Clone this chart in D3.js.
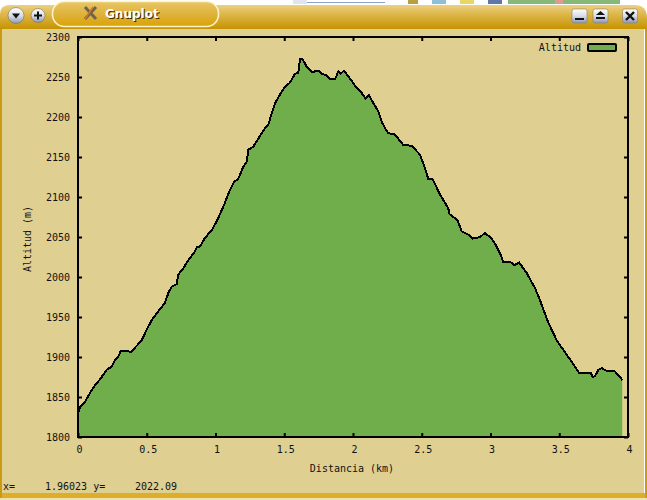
<!DOCTYPE html>
<html><head><meta charset="utf-8">
<script src="https://cdnjs.cloudflare.com/ajax/libs/d3/7.8.5/d3.min.js"></script>
<style>
html,body{margin:0;padding:0;background:#fff;overflow:hidden}
svg{display:block}
text{font-family:"DejaVu Sans Mono",monospace;font-size:10px;fill:#111}
</style></head><body>
<svg id="c" width="647" height="500"></svg>
<script>
const distanceKm=[0,.015,.051,.087,.124,.16,.209,.245,.269,.298,.311,.354,.383,.427,.463,.511,.536,.584,.633,.657,.681,.718,.729,.766,.802,.851,.863,.887,.924,.975,1.018,1.062,1.098,1.135,1.164,1.202,1.227,1.239,1.275,1.311,1.36,1.384,1.409,1.433,1.469,1.505,1.542,1.578,1.602,1.615,1.631,1.663,1.7,1.748,1.772,1.809,1.833,1.869,1.893,1.91,1.935,1.978,2.015,2.063,2.092,2.116,2.136,2.184,2.209,2.233,2.255,2.305,2.366,2.427,2.487,2.524,2.548,2.58,2.633,2.693,2.7,2.759,2.791,2.839,2.871,2.924,2.96,3.009,3.045,3.074,3.093,3.142,3.173,3.209,3.263,3.324,3.36,3.418,3.481,3.529,3.591,3.644,3.729,3.743,3.76,3.784,3.809,3.84,3.905,3.942,3.958];
const altitudeM=[1829,1838,1844,1855,1865,1872,1884,1888,1896,1902,1908,1908,1906,1914,1921,1938,1946,1957,1968,1980,1988,1991,2003,2011,2021,2032,2037,2038,2049,2059,2073,2090,2106,2119,2122,2138,2144,2159,2163,2173,2186,2190,2205,2217,2228,2238,2243,2254,2255,2273,2273,2263,2256,2258,2254,2252,2247,2247,2257,2254,2258,2248,2239,2230,2223,2227,2221,2207,2194,2186,2180,2178,2165,2164,2153,2136,2122,2122,2103,2086,2079,2071,2057,2053,2048,2050,2055,2048,2038,2028,2019,2019,2015,2018,2005,1986,1971,1944,1921,1909,1894,1880,1880,1875,1876,1884,1886,1883,1882,1875,1871];
const xTicks=[0,.5,1,1.5,2,2.5,3,3.5,4];
const yTicks=[1800,1850,1900,1950,2000,2050,2100,2150,2200,2250,2300];
const xLabel="Distancia (km)", yLabel="Altitud (m)", legendLabel="Altitud";
const statusParts=["x=","1.96023 y=","2022.09"];
const windowTitle="Gnuplot";

const svg=d3.select("#c");
const defs=svg.append("defs");
function grad(id,stops){const g=defs.append("linearGradient").attr("id",id).attr("x1",0).attr("x2",0).attr("y1",0).attr("y2",1);
  stops.forEach(([o,c])=>g.append("stop").attr("offset",o).attr("stop-color",c));}
grad("bar",[[0,"#ecd184"],[.35,"#dfb94f"],[1,"#c69300"]]);
grad("tab",[[0,"#e8c765"],[.5,"#dfb23c"],[1,"#d9a305"]]);
grad("btn",[[0,"#ffffff"],[.5,"#d8dde8"],[1,"#8f97b0"]]);

// desktop strip behind the window
svg.append("rect").attr("x",293).attr("y",0).attr("width",14).attr("height",4).attr("fill","#dfe4ee");
svg.append("rect").attr("x",307).attr("y",2).attr("width",78).attr("height",1).attr("fill","#8ea2c8");
svg.append("rect").attr("x",408).attr("y",0).attr("width",10).attr("height",4).attr("fill","#b8a040");
svg.append("rect").attr("x",432).attr("y",0).attr("width",14).attr("height",4).attr("fill","#8fc0d8");
svg.append("rect").attr("x",460).attr("y",0).attr("width",14).attr("height",4).attr("fill","#e8d860");
svg.append("rect").attr("x",488).attr("y",0).attr("width",14).attr("height",4).attr("fill","#5f78a8");
svg.append("rect").attr("x",508).attr("y",0).attr("width",112).attr("height",4).attr("fill","#86b878");
svg.append("rect").attr("x",555).attr("y",0).attr("width",8).attr("height",4).attr("fill","#e09a90");

// window
svg.append("path").attr("d","M0,29V14Q0,5 10,5H634Q647,5 647,18V29Z").attr("fill","url(#bar)");
svg.append("rect").attr("x",2).attr("y",29).attr("width",642).attr("height",464).attr("fill","#dfcf91");
svg.append("rect").attr("x",0).attr("y",29).attr("width",2).attr("height",471).attr("fill","#c99a12");
svg.append("rect").attr("x",645).attr("y",29).attr("width",2).attr("height",471).attr("fill","#c99a12");
svg.append("rect").attr("x",2).attr("y",493).attr("width",643).attr("height",5).attr("fill","#dcae2a");
svg.append("rect").attr("x",0).attr("y",498).attr("width",647).attr("height",2).attr("fill","#efe2b0");

// title bar controls
[[16,"down",8],[38,"plus",7]].forEach(([cx,k,r])=>{
  svg.append("circle").attr("cx",cx).attr("cy",15.5).attr("r",r).attr("fill","url(#btn)").attr("stroke","#7a7050").attr("stroke-width",.6);
  if(k==="down") svg.append("path").attr("d",`M${cx-4},13.5H${cx+4}L${cx},18.5Z`).attr("fill","#111");
  else svg.append("path").attr("d",`M${cx-4},15.5H${cx+4}M${cx},11.5V19.5`).attr("stroke","#111").attr("stroke-width",2);
});
svg.append("rect").attr("x",52.5).attr("y",1.5).attr("width",166).attr("height",25).attr("rx",12).attr("fill","url(#tab)").attr("stroke","#fdf3c8").attr("stroke-width",1.6);
svg.append("path").attr("d","M85,7L96,19M96,7L85,19").attr("stroke","#6d6350").attr("stroke-width",3);
svg.append("path").attr("d","M93,7L85,19").attr("stroke","#d07a20").attr("stroke-width",1.5);
svg.append("text").attr("x",105).attr("y",18).text(windowTitle).style("font-family","'DejaVu Sans'").style("font-size","12px").style("font-weight","bold").style("fill","#3a2c00").attr("transform","translate(1,1)");
svg.append("text").attr("x",105).attr("y",18).text(windowTitle).style("font-family","'DejaVu Sans'").style("font-size","12px").style("font-weight","bold").style("fill","#fff");
[[572,"min"],[593,"max"],[622.5,"x"]].forEach(([x,k])=>{
  svg.append("rect").attr("x",x).attr("y",9).attr("width",15).attr("height",14).attr("rx",2).attr("fill","url(#btn)").attr("stroke","#8a8060").attr("stroke-width",.6);
  if(k==="min") svg.append("rect").attr("x",x+3).attr("y",18).attr("width",9).attr("height",2).attr("fill","#111");
  if(k==="max") svg.append("path").attr("d",`M${x+3},15L${x+7.5},11L${x+12},15ZM${x+3},17H${x+12}V19H${x+3}Z`).attr("fill","#111");
  if(k==="x") svg.append("path").attr("d",`M${x+3.5},12L${x+11.5},20M${x+11.5},12L${x+3.5},20`).attr("stroke","#111").attr("stroke-width",2.4);
});

// plot
const L=78,R=628,T=37,B=437;
const x=d3.scaleLinear().domain([0,4]).range([L,R]);
const y=d3.scaleLinear().domain([1800,2300]).range([B,T]);
const pts=distanceKm.map((d,i)=>[d,altitudeM[i]]);
svg.append("path").datum(pts).attr("fill","#6fae4a").attr("d",d3.area().x(d=>x(d[0])).y0(y(1800)).y1(d=>y(d[1])));
svg.append("path").datum(pts).attr("fill","none").attr("stroke","#000").attr("stroke-width",2).attr("shape-rendering","crispEdges")
  .attr("d",d3.line().x(d=>x(d[0])).y(d=>y(d[1])));

function style(g){g.select(".domain").remove();g.selectAll("line").attr("stroke","#000").attr("stroke-width",2);}
svg.append("g").attr("transform",`translate(0,${B})`).call(d3.axisBottom(x).tickValues(xTicks).tickSize(-4).tickFormat(d3.format("~g"))).call(style)
  .selectAll("text").attr("dx",1).attr("dy","0.71em").attr("y",9);
svg.append("g").attr("transform",`translate(0,${T})`).call(d3.axisTop(x).tickValues(xTicks).tickSize(-4).tickFormat("")).call(style);
svg.append("g").attr("transform",`translate(${L},0)`).call(d3.axisLeft(y).tickValues(yTicks).tickSize(-4).tickFormat(d3.format("d"))).call(style)
  .selectAll("text").attr("x",-8).attr("dy","0.32em");
svg.append("g").attr("transform",`translate(${R},0)`).call(d3.axisRight(y).tickValues(yTicks).tickSize(-4).tickFormat("")).call(style);
svg.selectAll("g text").style("font-family",'"DejaVu Sans Mono",monospace').style("font-size","10px").attr("fill","#111");
svg.append("rect").attr("x",L).attr("y",T).attr("width",R-L).attr("height",B-T).attr("fill","none").attr("stroke","#000").attr("stroke-width",2);

// titles
svg.append("text").attr("x",352).attr("y",472).attr("text-anchor","middle").text(xLabel);
svg.append("text").attr("transform","translate(31,239) rotate(-90)").attr("text-anchor","middle").text(yLabel);

// legend
svg.append("text").attr("x",581).attr("y",51).attr("text-anchor","end").text(legendLabel);
svg.append("rect").attr("x",588).attr("y",44).attr("width",28).attr("height",7).attr("fill","#6fae4a").attr("stroke","#000").attr("stroke-width",2).attr("rx",1);

// status line
svg.append("text").attr("x",3).attr("y",490).text(statusParts[0]);
svg.append("text").attr("x",45).attr("y",490).text(statusParts[1]);
svg.append("text").attr("x",135).attr("y",490).text(statusParts[2]);
</script></body></html>
